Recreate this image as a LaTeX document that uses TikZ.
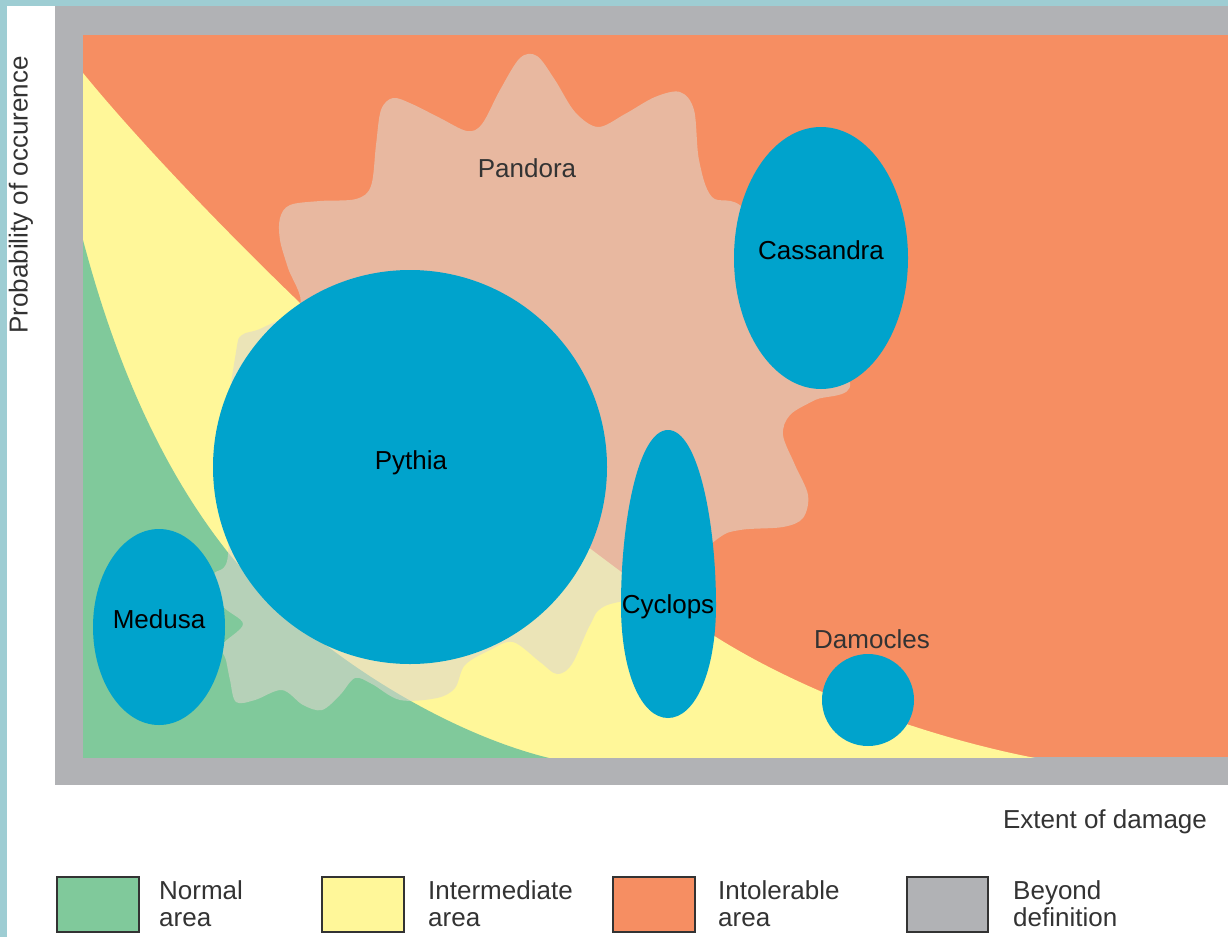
\documentclass[tikz,border=0pt]{standalone}
\usepackage{fontspec}
\setmainfont{Liberation Sans}
\usetikzlibrary{shapes.geometric}
\definecolor{frameblue}{RGB}{158,205,211}
\definecolor{greyband}{RGB}{177,178,181}
\definecolor{orangearea}{RGB}{246,142,98}
\definecolor{yellowarea}{RGB}{255,247,153}
\definecolor{greenarea}{RGB}{128,201,155}
\definecolor{blobblue}{RGB}{0,163,204}
\definecolor{pandoratint}{RGB}{222,215,205}
\definecolor{txtgrey}{RGB}{51,51,51}
\begin{document}
\begin{tikzpicture}[x=1pt,y=-1pt,
  lbl/.style={font=\fontsize{26}{30}\selectfont, text=black, inner sep=0},
  blob/.style={fill=blobblue, draw=none, inner sep=0},
  legbox/.style={draw=txtgrey, line width=1.5pt, minimum width=82, minimum height=55, inner sep=0},
  legtxt/.style={anchor=west, align=left, font=\fontsize{26}{27}\selectfont, text=txtgrey, inner sep=0}]
\useasboundingbox (0,0) rectangle (1228,937);
\fill[white] (0,0) rectangle (1228,937);
\fill[frameblue] (0,0) rectangle (7,937);
\fill[frameblue] (0,0) rectangle (1228,6);
% chart frame and areas
\fill[greyband] (55,6) rectangle (1228,785);
\fill[orangearea] (83,35) rectangle (1228,757);
\begin{scope}
\clip (83,35) rectangle (1228,757);
\fill[yellowarea] (83,73) .. controls (150,155) and (250,255) .. (300,303)
  .. controls (420,415) and (600,565) .. (716,637)
  .. controls (800,690) and (920,735) .. (1030,757)
  -- (1100,770) -- (83,770) -- cycle;
\fill[greenarea] (83,240) .. controls (120,380) and (170,480) .. (230,555)
  .. controls (310,650) and (440,730) .. (545,757)
  -- (600,770) -- (83,770) -- cycle;
% Pandora
\fill[pandoratint, fill opacity=0.58] plot[smooth cycle, tension=0.55] coordinates {
 (300,305) (288,268) (280,240) (280,218) (290,205) (320,201) (356,199) (371,186) (376,145) (381,110) (393,98) (412,104) (440,118) (467,131) (482,124) (500,90) (520,58) (537,56) (555,80) (575,112) (598,127) (625,114) (655,97) (680,92) (694,110) (699,160) (712,197) (745,210)
 (800,300) (850,383) (815,400) (790,415) (783,435) (795,465) (808,495) (803,518) (783,527) (740,530) (716,540)
 (660,590) (605,606) (590,625) (572,664) (557,674) (540,662) (513,642) (490,650)
 (465,665) (455,688) (437,698) (400,700) (372,684) (355,678) (340,695) (322,710) (303,705) (282,690) (255,700) (236,702) (230,680) (226,660)
 (222,645) (243,624) (222,605) (214,575) (228,555)
 (225,440) (236,352) (242,335) (262,328)};
\end{scope}
% blobs
\node[blob, circle, minimum size=394] (pythia) at (410,467) {};
\node[blob, ellipse, minimum width=174, minimum height=262] (cassandra) at (821,258) {};
\node[blob, ellipse, minimum width=132, minimum height=196] (medusa) at (159,627) {};
\node[blob, circle, minimum size=92] (damocles) at (868,700) {};
\fill[blobblue] (668,718) .. controls (695,718) and (716,672) .. (716,605) .. controls (716,522) and (698,430) .. (668,430) .. controls (638,430) and (621,522) .. (621,605) .. controls (621,672) and (641,718) .. (668,718);
% labels
\node[lbl] (pythialbl) at (411,463) {Pythia};
\node[lbl] (cassandralbl) at (821,250) {Cassandra};
\node[lbl] (medusalbl) at (159,619) {Medusa};
\node[lbl] (cyclops) at (668,607) {Cyclops};
\node[lbl, text=txtgrey] (pandora) at (527,168) {Pandora};
\node[lbl, text=txtgrey] (damocleslbl) at (872,639) {Damocles};
% axes labels
\node[lbl, text=txtgrey, rotate=90] (ylab) at (21,195) {Probability of occurence};
\node[lbl, text=txtgrey] (xlab) at (1105,822) {Extent of damage};
% legend
\node[legbox, fill=greenarea] (lg1) at (98,904.5) {};
\node[legtxt] (lt1) at (159,904) {Normal\\area};
\node[legbox, fill=yellowarea] (lg2) at (363,904.5) {};
\node[legtxt] (lt2) at (428,904) {Intermediate\\area};
\node[legbox, fill=orangearea] (lg3) at (654,904.5) {};
\node[legtxt] (lt3) at (718,904) {Intolerable\\area};
\node[legbox, fill=greyband, minimum width=81] (lg4) at (947.5,904.5) {};
\node[legtxt] (lt4) at (1013,904) {Beyond\\definition};
\end{tikzpicture}
\end{document}
